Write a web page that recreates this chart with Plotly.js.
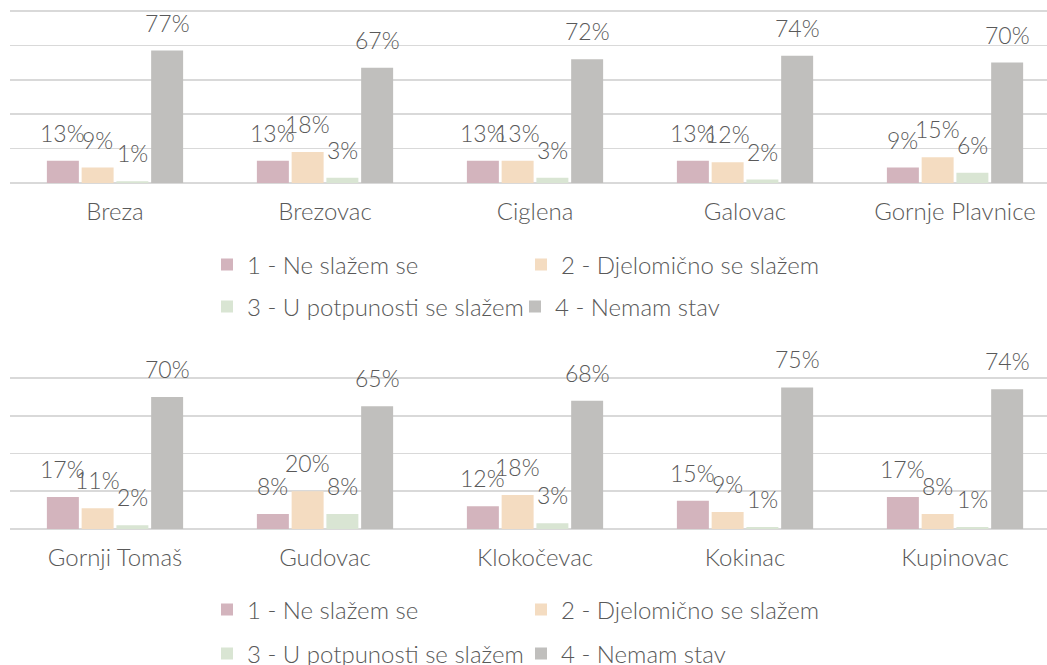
<!DOCTYPE html>
<html>
<head>
<meta charset="utf-8">
<script src="https://cdn.plot.ly/plotly-3.0.1.min.js"></script>
<style>html,body{margin:0;padding:0;background:#fff;overflow:hidden;width:1047px;height:665px}#chart{width:1047px;height:720px}</style>
</head>
<body>
<div id="chart"></div>
<script>
// ---- data ----
const categoriesTop = ['Breza', 'Brezovac', 'Ciglena', 'Galovac', 'Gornje Plavnice'];
const categoriesBottom = ['Gornji Tomaš', 'Gudovac', 'Klokočevac', 'Kokinac', 'Kupinovac'];
const seriesNames = ['1 - Ne slažem se', '2 - Djelomično se slažem', '3 - U potpunosti se slažem', '4 - Nemam stav'];

const neSlazemTop       = [13, 13, 13, 13, 9];
const djelomicnoTop     = [9, 18, 13, 12, 15];
const uPotpunostiTop    = [1, 3, 3, 2, 6];
const nemamStavTop      = [77, 67, 72, 74, 70];

const neSlazemBottom    = [17, 8, 12, 15, 17];
const djelomicnoBottom  = [11, 20, 18, 9, 8];
const uPotpunostiBottom = [2, 8, 3, 1, 1];
const nemamStavBottom   = [70, 65, 68, 75, 74];

const colors = ['#D3B4BD', '#F4DCC1', '#D9E5D3', '#C0BFBD'];

// ---- layout constants ----
const W = 1047, H = 720; // figure is taller than the 665px window; the view shows the top part
const plotLeft = 10;
const xRange = [-0.5, 4.438];
const bargap = 0.338;
const textColor = '#595959';
const fontFamily = 'Lato, "Open Sans", sans-serif';
const labelSize = 23;
const axisSize = 24;
const legendSize = 24;
const pad = 0.6; // small headroom (in % units) so the top gridline is drawn

const panels = [
  {cats: categoriesTop, vals: [neSlazemTop, djelomicnoTop, uPotpunostiTop, nemamStavTop],
   xa: 'x', ya: 'y', top: 11, base: 183, yMax: 100, legendRows: [265, 307], legendX: [226, 540, 226, 534], legendBase: 0},
  {cats: categoriesBottom, vals: [neSlazemBottom, djelomicnoBottom, uPotpunostiBottom, nemamStavBottom],
   xa: 'x2', ya: 'y2', top: 378, base: 529, yMax: 80, legendRows: [610, 654], legendX: [226, 540, 226, 540], legendBase: 4}
];

const catPx = (W - plotLeft) / (xRange[1] - xRange[0]);
const slotPx = catPx * (1 - bargap) / 4;

const traces = [];
const annotations = [];
const layout = {
  width: W, height: H,
  margin: {l: 0, r: 0, t: 0, b: 0, pad: 0, autoexpand: false},
  paper_bgcolor: '#ffffff', plot_bgcolor: '#ffffff',
  barmode: 'group', bargap: bargap, bargroupgap: 0.08,
  font: {family: fontFamily, size: labelSize, color: textColor, weight: 300},
  showlegend: true,
  annotations: annotations
};

panels.forEach((p, pi) => {
  const xKey = pi === 0 ? 'xaxis' : 'xaxis2';
  const yKey = pi === 0 ? 'yaxis' : 'yaxis2';
  const pxPerUnit = (p.base - p.top) / p.yMax;
  const topPx = p.top - pad * pxPerUnit;
  layout[xKey] = {
    domain: [plotLeft / W, 1], range: xRange, type: 'category',
    anchor: p.ya, showgrid: false, zeroline: false, showline: false,
    ticks: '', ticklabelstandoff: 12, fixedrange: true, automargin: false,
    tickfont: {family: fontFamily, size: axisSize, color: textColor, weight: 300}
  };
  layout[yKey] = {
    domain: [1 - p.base / H, 1 - topPx / H], range: [0, p.yMax + pad],
    anchor: p.xa, tick0: 0, dtick: 20, showticklabels: false,
    showgrid: true, gridcolor: '#D9D9D9', gridwidth: 1.6,
    zeroline: true, zerolinecolor: '#D9D9D9', zerolinewidth: 1.6,
    showline: false, ticks: '', fixedrange: true, automargin: false
  };
  p.vals.forEach((vals, j) => {
    const legendName = (p.legendBase + j) === 0 ? 'legend' : 'legend' + (p.legendBase + j + 1);
    traces.push({
      type: 'bar', name: seriesNames[j], x: p.cats, y: vals,
      xaxis: p.xa, yaxis: p.ya,
      marker: {color: colors[j], line: {width: 0}},
      legend: legendName, hoverinfo: 'skip'
    });
    const row = j < 2 ? p.legendRows[0] : p.legendRows[1];
    layout[legendName] = {
      x: (p.legendX[j] - 19) / W, y: 1 - row / H, xanchor: 'left', yanchor: 'middle',
      orientation: 'h', bgcolor: 'rgba(0,0,0,0)', borderwidth: 0,
      font: {family: fontFamily, size: legendSize, color: textColor, weight: 300},
      itemclick: false, itemdoubleclick: false
    };
    vals.forEach((v, i) => {
      annotations.push({
        x: p.cats[i], y: v, xref: p.xa, yref: p.ya,
        xshift: (j - 1.5) * slotPx, yshift: 12,
        xanchor: 'center', yanchor: 'bottom', showarrow: false,
        text: v + '%',
        font: {family: fontFamily, size: labelSize, color: textColor, weight: 300}
      });
    });
  });
});

Plotly.newPlot('chart', traces, layout, {displayModeBar: false, staticPlot: true});
</script>
</body>
</html>
